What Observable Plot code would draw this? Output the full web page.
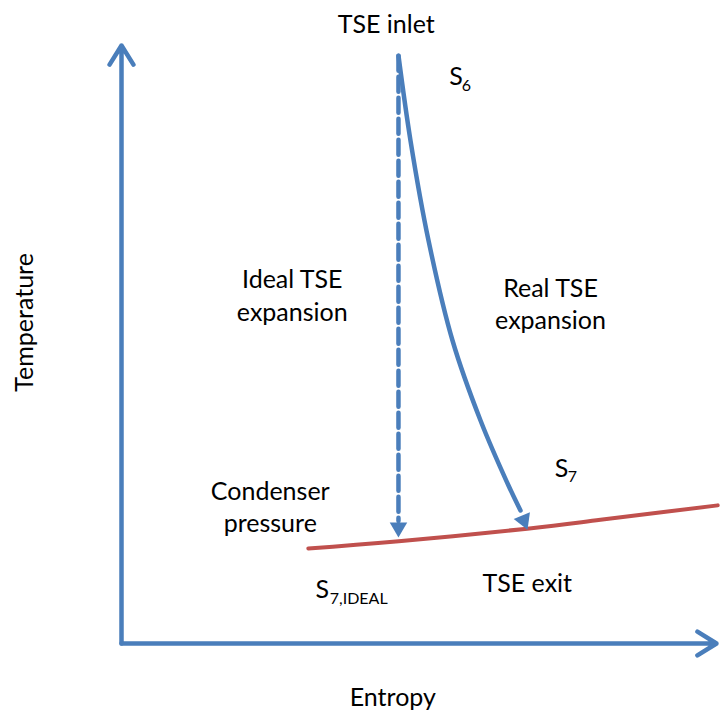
<!DOCTYPE html>
<html>
<head>
<meta charset="utf-8">
<script src="https://cdn.jsdelivr.net/npm/d3@7"></script>
<script src="https://cdn.jsdelivr.net/npm/@observablehq/plot@0.6"></script>
<style>
  html, body { margin: 0; padding: 0; background: #fff; }
</style>
</head>
<body>
<div id="chart"></div>
<script>
// ---- Data (schematic T–s diagram, arbitrary units 0..100) ----
// Axes (arrows)
const axisS1 = [0, 0];
const axisT1 = [0, 0];
const axisS2 = [0, 100];
const axisT2 = [100, 0];

// Ideal (isentropic) expansion: vertical dashed line
const idealS = [46.55, 46.55];
const idealT = [98.3, 20.5];
const idealHeadS = [46.55];
const idealHeadT = [19.4];

// Real expansion curve
const realS = [46.55, 48.57, 51.6, 55.63, 60.34, 65.04, 67.06];
const realT = [98.3, 84.11, 67.39, 50.67, 37.29, 26.42, 22.24];
const realHeadS = [67.6];
const realHeadT = [20.6];

// Condenser pressure isobar
const condS = [31.4, 46.6, 68.2, 80.5, 100.2];
const condT = [15.9, 17.1, 19.2, 20.7, 23.1];

// Labels
const labelText = ["TSE inlet", "Ideal TSE\nexpansion", "Real TSE\nexpansion", "Condenser\npressure", "TSE exit", "Entropy"];
const labelS = [44.5, 28.7, 72.1, 25.0, 68.2, 45.6];
const labelT = [103.9, 58.4, 57.0, 23.1, 10.4, -8.7];

const yTitle = ["Temperature"];
const yTitleS = [-16.3];
const yTitleT = [53.7];

// State-point labels: main letter + subscript
const stateMain = ["S", "S", "S"];
const stateMainS = [55.1, 72.8, 32.6];
const stateMainT = [94.7, 29.1, 8.9];
const stateSub = ["6", "7", "7,IDEAL"];
const stateSubS = [57.2, 75.0, 35.0];
const stateSubT = [93.3, 27.8, 7.4];

// ---- Build tables ----
const zip = (a, b) => a.map((v, i) => ({s: v, t: b[i]}));
const axes = axisS1.map((v, i) => ({s1: v, t1: axisT1[i], s2: axisS2[i], t2: axisT2[i]}));
const ideal = zip(idealS, idealT);
const real = zip(realS, realT);
const cond = zip(condS, condT);
const labels = labelText.map((txt, i) => ({txt, s: labelS[i], t: labelT[i]}));
const titles = yTitle.map((txt, i) => ({txt, s: yTitleS[i], t: yTitleT[i]}));
const mains = stateMain.map((txt, i) => ({txt, s: stateMainS[i], t: stateMainT[i]}));
const subs = stateSub.map((txt, i) => ({txt, s: stateSubS[i], t: stateSubT[i]}));

const blue = "#4a7ebb";
const red = "#c0504d";

const chart = Plot.plot({
  width: 720,
  height: 713,
  margin: 0,
  style: {fontFamily: "Lato, 'Open Sans', sans-serif", background: "#fff"},
  x: {domain: [0, 100], range: [121, 716], axis: null},
  y: {domain: [0, 100], range: [643, 45], axis: null},
  marks: [
    Plot.line(cond, {x: "s", y: "t", curve: "natural", stroke: red, strokeWidth: 4}),
    Plot.line(ideal, {x: "s", y: "t", stroke: blue, strokeWidth: 4.5, strokeDasharray: "15,6"}),
    Plot.dot(zip(idealHeadS, idealHeadT), {x: "s", y: "t", symbol: "triangle", r: 6.5, fill: blue, stroke: "none", rotate: 180}),
    Plot.line(real, {x: "s", y: "t", curve: "catmull-rom", stroke: blue, strokeWidth: 4.5}),
    Plot.dot(zip(realHeadS, realHeadT), {x: "s", y: "t", symbol: "triangle", r: 6.5, fill: blue, stroke: "none", rotate: 158}),
    Plot.arrow(axes, {x1: "s1", y1: "t1", x2: "s2", y2: "t2", stroke: blue, strokeWidth: 4.5, headLength: 7.5, headAngle: 64}),
    Plot.text(labels, {x: "s", y: "t", text: "txt", fontSize: 25, lineHeight: 1.3, fill: "#000", textAnchor: "middle"}),
    Plot.text(titles, {x: "s", y: "t", text: "txt", fontSize: 25, rotate: -90, fill: "#000"}),
    Plot.text(mains, {x: "s", y: "t", text: "txt", fontSize: 25, textAnchor: "start", fill: "#000"}),
    Plot.text(subs, {x: "s", y: "t", text: "txt", fontSize: 16, textAnchor: "start", fill: "#000"})
  ]
});
document.getElementById("chart").appendChild(chart);
</script>
</body>
</html>
